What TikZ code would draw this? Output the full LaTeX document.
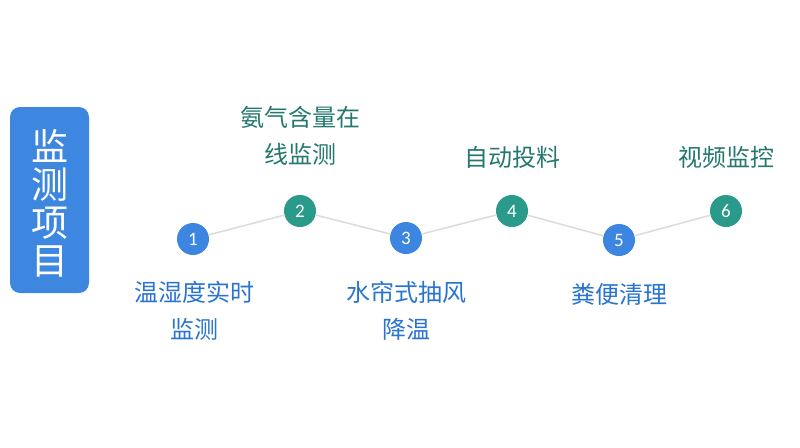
\documentclass[tikz,border=0pt]{standalone}
\usepackage{fontspec}
\setmainfont{Noto Sans CJK SC}
\newfontfamily\numfont{Carlito}
\usetikzlibrary{positioning}
\definecolor{boxblue}{rgb}{0.239,0.529,0.878}
\definecolor{dotblue}{rgb}{0.235,0.525,0.882}
\definecolor{dotteal}{rgb}{0.165,0.604,0.545}
\definecolor{txtblue}{rgb}{0.16,0.45,0.82}
\definecolor{txtteal}{rgb}{0.14,0.47,0.43}
\definecolor{linegray}{rgb}{0.86,0.86,0.86}
\tikzset{
  dotb/.style={circle,fill=dotblue,minimum size=32pt,inner sep=0pt,text=white,font=\numfont\fontsize{19}{19}\selectfont},
  dott/.style={dotb,fill=dotteal},
  lblb/.style={inner sep=0pt,align=center,text=txtblue,font=\fontsize{24}{37}\selectfont},
  lblt/.style={lblb,text=txtteal},
  link/.style={draw=linegray,line width=1.5pt}
}
\begin{document}
\begin{tikzpicture}[line cap=round,line join=round,x=1pt,y=-1pt]
\useasboundingbox[fill=white] (0,0) rectangle (800,447);
% title box
\node[fill=boxblue,rounded corners=10pt,minimum width=79pt,minimum height=186pt,inner sep=0pt] (titlebox) at (49.5,200) {};
\node[inner sep=0pt,align=center,text=white,font=\fontsize{37}{38}\selectfont] (title) at (50,203) {监\\测\\项\\目};
% steps
\node[dotb] (s1) at (193,239) {1};
\node[dott] (s2) at (300,211) {2};
\node[dotb] (s3) at (406,238) {3};
\node[dott] (s4) at (512,211) {4};
\node[dotb] (s5) at (619,240) {5};
\node[dott] (s6) at (726,211) {6};
\draw[link] (s1) -- (s2);
\draw[link] (s2) -- (s3);
\draw[link] (s3) -- (s4);
\draw[link] (s4) -- (s5);
\draw[link] (s5) -- (s6);
% labels
\node[lblb] (l1) at (194,311) {温湿度实时\\监测};
\node[lblt] (l2) at (300,136) {氨气含量在\\线监测};
\node[lblb] (l3) at (406,311) {水帘式抽风\\降温};
\node[lblt] (l4) at (512,157) {自动投料};
\node[lblb] (l5) at (619,294) {粪便清理};
\node[lblt] (l6) at (726,157) {视频监控};
\end{tikzpicture}
\end{document}
